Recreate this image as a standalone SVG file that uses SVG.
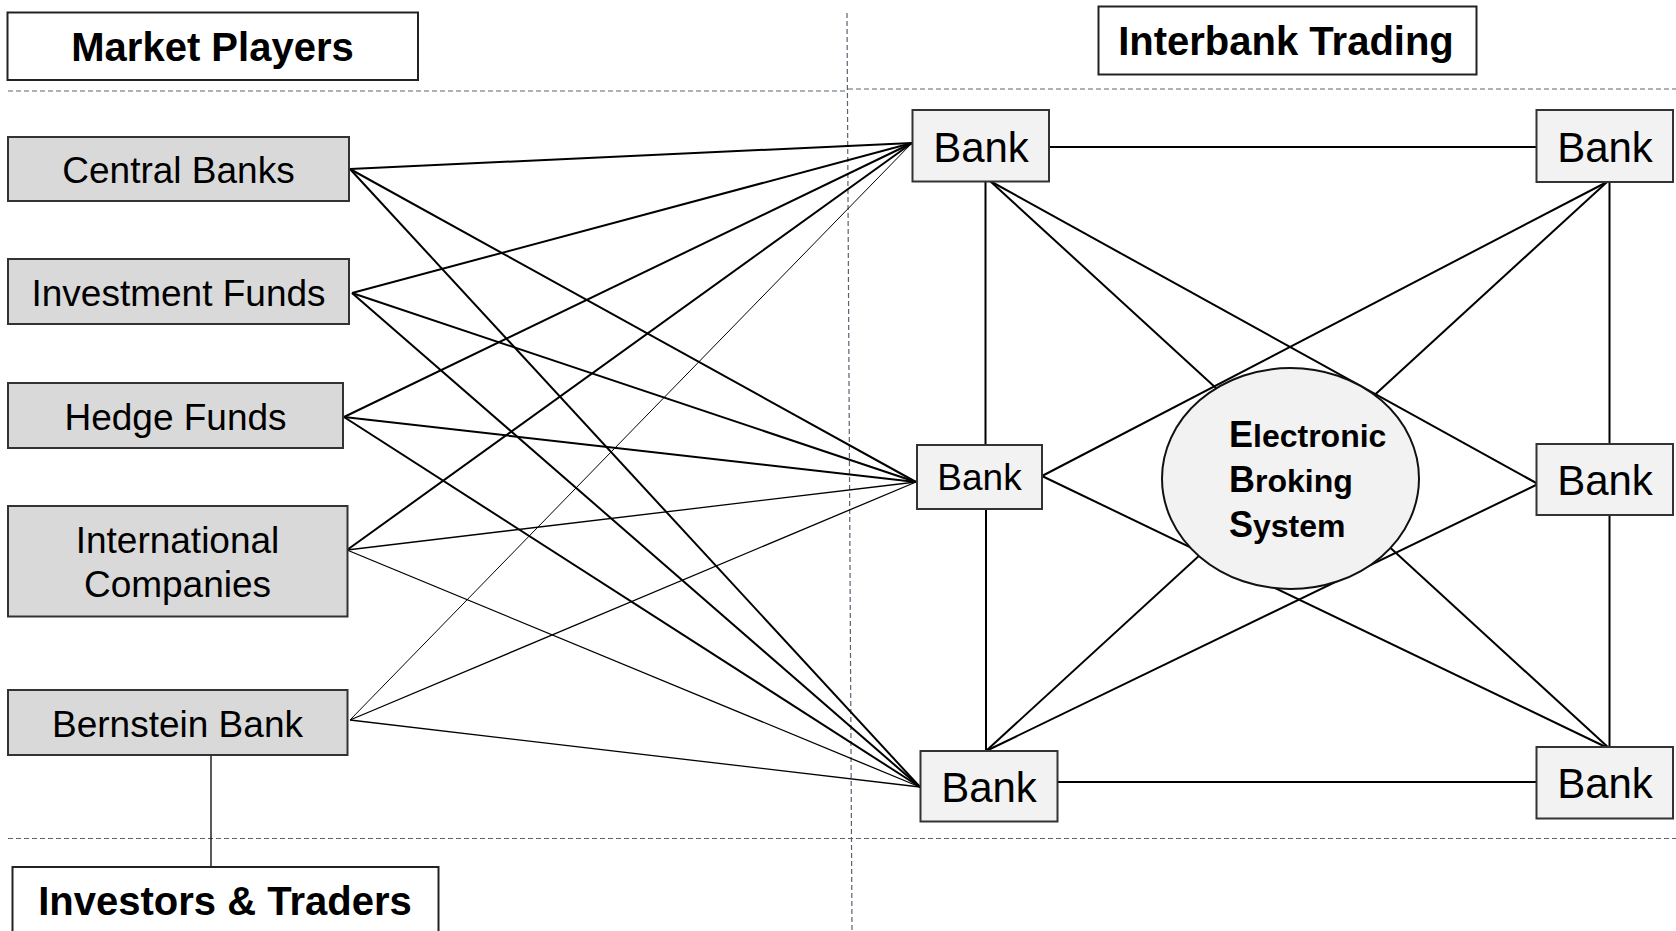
<svg xmlns="http://www.w3.org/2000/svg" width="1676" height="931" viewBox="0 0 1676 931">
<style>
.bg{fill:#ffffff}
.hdr rect{fill:#ffffff;stroke:#222;stroke-width:2}
.hdr text{font-family:"Liberation Sans",Arial,sans-serif;font-weight:bold;font-size:40px;fill:#000;text-anchor:middle}
.player rect{fill:#d9d9d9;stroke:#333;stroke-width:2}
.player text{font-family:"Liberation Sans",Arial,sans-serif;font-size:37px;fill:#000;text-anchor:middle}
.bank rect{fill:#f2f2f2;stroke:#333;stroke-width:2}
.bank text{font-family:"Liberation Sans",Arial,sans-serif;font-size:42px;fill:#000;text-anchor:middle}
.dash{stroke:#5a6270;stroke-width:1.2;stroke-dasharray:5 3;fill:none}
.c{stroke:#000;stroke-width:2;fill:none}
.t{stroke:#000;stroke-width:1;fill:none}
.m{stroke:#000;stroke-width:1.3;fill:none}
.ebs ellipse{fill:#f2f2f2;stroke:#111;stroke-width:2}
.ebs text{font-family:"Liberation Sans",Arial,sans-serif;font-weight:bold;font-size:32px;fill:#000}
.big{font-size:36px}
</style>
<rect class="bg" x="0" y="0" width="1676" height="931"/>

<g id="guides">
<line class="dash" x1="8" y1="91" x2="848" y2="91"/>
<line class="dash" x1="848" y1="89" x2="1676" y2="89"/>
<line class="dash" x1="8" y1="838.5" x2="1676" y2="838.5"/>
<line class="dash" x1="847" y1="13" x2="852" y2="931"/>
</g>

<g id="connectors">
<!-- market players to banks -->
<line class="c" x1="350" y1="169" x2="912" y2="143"/>
<line class="c" x1="350" y1="169" x2="916" y2="482"/>
<line class="c" x1="350" y1="169" x2="920" y2="787"/>
<line class="c" x1="352" y1="293" x2="912" y2="143"/>
<line class="c" x1="352" y1="293" x2="916" y2="482"/>
<line class="c" x1="352" y1="293" x2="920" y2="787"/>
<line class="c" x1="344" y1="417" x2="912" y2="143"/>
<line class="c" x1="344" y1="417" x2="916" y2="482"/>
<line class="c" x1="344" y1="417" x2="920" y2="787"/>
<line class="c" x1="347" y1="550" x2="912" y2="143"/>
<line class="m" x1="347" y1="550" x2="916" y2="482"/>
<line class="m" x1="347" y1="550" x2="920" y2="787"/>
<line class="t" x1="350" y1="720" x2="912" y2="143"/>
<line class="m" x1="350" y1="720" x2="916" y2="482"/>
<line class="m" x1="350" y1="720" x2="920" y2="787"/>
<!-- player to investors -->
<line class="m" x1="211" y1="755" x2="211" y2="867"/>
<!-- interbank -->
<line class="c" x1="1049" y1="147" x2="1536" y2="147"/>
<line class="c" x1="1058" y1="782" x2="1536" y2="782"/>
<line class="c" x1="985.5" y1="182" x2="985.5" y2="445"/>
<line class="c" x1="986" y1="509" x2="986" y2="751"/>
<line class="c" x1="1609.5" y1="182" x2="1609.5" y2="444"/>
<line class="c" x1="1609.5" y1="515" x2="1609.5" y2="747"/>
<line class="c" x1="990" y1="181" x2="1610" y2="749"/>
<line class="c" x1="1607" y1="182" x2="986" y2="751"/>
<line class="c" x1="990" y1="181" x2="1538" y2="484"/>
<line class="c" x1="1607" y1="182" x2="1042" y2="476"/>
<line class="c" x1="1042" y1="476" x2="1610" y2="749"/>
<line class="c" x1="1538" y1="484" x2="986" y2="751"/>
</g>

<g id="market-players" class="hdr">
<rect x="7.5" y="12.5" width="410.5" height="67.5"/>
<text x="212.5" y="61">Market Players</text>
</g>
<g id="interbank-trading" class="hdr">
<rect x="1098.5" y="6.5" width="378" height="68"/>
<text x="1286" y="54.5">Interbank Trading</text>
</g>
<g id="investors-traders" class="hdr">
<rect x="12.5" y="867" width="426" height="80"/>
<text x="225" y="915">Investors &amp; Traders</text>
</g>

<g id="central-banks" class="player">
<rect x="8" y="137" width="341" height="64"/>
<text x="178.5" y="183">Central Banks</text>
</g>
<g id="investment-funds" class="player">
<rect x="8" y="259" width="341" height="65"/>
<text x="178.5" y="305.5">Investment Funds</text>
</g>
<g id="hedge-funds" class="player">
<rect x="8" y="383" width="335" height="65"/>
<text x="175.5" y="429.5">Hedge Funds</text>
</g>
<g id="international-companies" class="player">
<rect x="8" y="506" width="339.5" height="110.5"/>
<text x="177.5" y="552.5">International</text>
<text x="177.5" y="596.5">Companies</text>
</g>
<g id="bernstein-bank" class="player">
<rect x="8" y="690" width="339.5" height="65"/>
<text x="177.5" y="736.5">Bernstein Bank</text>
</g>

<g id="bank-tl" class="bank">
<rect x="912.5" y="110" width="136.5" height="71.5"/>
<text x="981" y="161.5">Bank</text>
</g>
<g id="bank-tr" class="bank">
<rect x="1536.5" y="110" width="136.5" height="72"/>
<text x="1605" y="161.5">Bank</text>
</g>
<g id="bank-ml" class="bank">
<rect x="917" y="445" width="125" height="64"/>
<text x="979.5" y="490" style="font-size:37px">Bank</text>
</g>
<g id="bank-mr" class="bank">
<rect x="1536.5" y="444" width="136.5" height="71"/>
<text x="1605" y="495">Bank</text>
</g>
<g id="bank-bl" class="bank">
<rect x="920.5" y="751" width="137" height="70.5"/>
<text x="989" y="802">Bank</text>
</g>
<g id="bank-br" class="bank">
<rect x="1536.5" y="747" width="136.5" height="71.5"/>
<text x="1605" y="798">Bank</text>
</g>

<g id="electronic-broking-system" class="ebs">
<ellipse cx="1290.5" cy="478.5" rx="128.5" ry="110.5"/>
<text x="1229" y="446.5"><tspan class="big">E</tspan>lectronic</text>
<text x="1229" y="491.5"><tspan class="big">B</tspan>roking</text>
<text x="1229" y="536.5"><tspan class="big">S</tspan>ystem</text>
</g>
</svg>
